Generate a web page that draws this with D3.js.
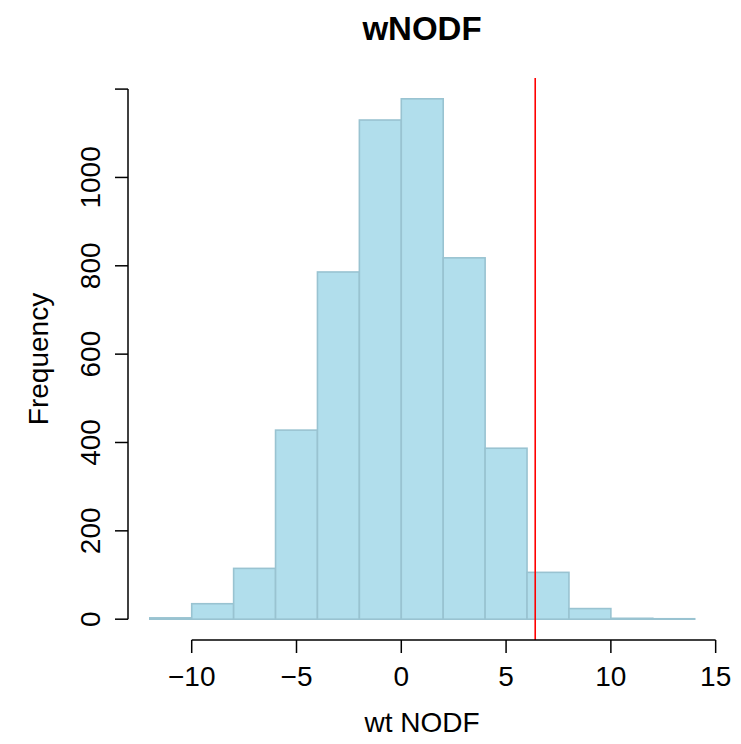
<!DOCTYPE html>
<html><head><meta charset="utf-8">
<script src="https://cdn.jsdelivr.net/npm/d3@7"></script>
<style>body{margin:0;background:#fff}svg{display:block}text{font-family:"Liberation Sans",Arial,Helvetica,sans-serif}</style>
</head><body><svg id="c" width="741" height="744"></svg>
<script>
const binStarts = [-12,-10,-8,-6,-4,-2,0,2,4,6,8,10,12];
const binWidth = 2;
const counts = [3,35,115,428,786,1130,1178,818,387,106,24,2,1];
const xTicks = [-10,-5,0,5,10,15];
const yTicks = [0,200,400,600,800,1000,1200];
const yTickLabels = ["0","200","400","600","800","1000",""];
const observed = 6.39;

const svg = d3.select("#c");
const xmin = binStarts[0], xmax = binStarts[binStarts.length-1]+binWidth;
const xpad = (xmax-xmin)*0.04;
const ymax = d3.max(counts), ypad = ymax*0.04;
const x = d3.scaleLinear().domain([xmin-xpad, xmax+xpad]).range([128, 716.5]);
const y = d3.scaleLinear().domain([-ypad, ymax+ypad]).range([640, 78]);

svg.append("g").selectAll("rect").data(counts).join("rect")
  .attr("x",(d,i)=>x(binStarts[i]))
  .attr("width",(d,i)=>x(binStarts[i]+binWidth)-x(binStarts[i]))
  .attr("y",d=>y(d))
  .attr("height",d=>y(0)-y(d))
  .attr("fill","#b1deec").attr("stroke","#99c3d1").attr("stroke-width",1.6);

svg.append("line").attr("x1",x(observed)).attr("x2",x(observed))
  .attr("y1",78).attr("y2",640).attr("stroke","#ff0000").attr("stroke-width",1.6);

// x axis
const gx = svg.append("g").attr("transform","translate(0,640)");
gx.append("line").attr("x1",x(xTicks[0])).attr("x2",x(xTicks[xTicks.length-1])).attr("stroke","#000").attr("stroke-width",1.5);
gx.selectAll("line.t").data(xTicks).join("line").attr("class","t")
  .attr("x1",d=>x(d)).attr("x2",d=>x(d)).attr("y1",0).attr("y2",13).attr("stroke","#000").attr("stroke-width",1.5);
gx.selectAll("text").data(xTicks).join("text")
  .attr("x",d=>x(d)).attr("y",46).attr("text-anchor","middle").attr("font-size",28)
  .text(d=>d<0?"\u2212"+Math.abs(d):d);

// y axis
const gy = svg.append("g").attr("transform","translate(128,0)");
gy.append("line").attr("y1",y(yTicks[0])).attr("y2",y(yTicks[yTicks.length-1])).attr("stroke","#000").attr("stroke-width",1.5);
gy.selectAll("line.t").data(yTicks).join("line").attr("class","t")
  .attr("y1",d=>y(d)).attr("y2",d=>y(d)).attr("x1",0).attr("x2",-13).attr("stroke","#000").attr("stroke-width",1.5);
gy.selectAll("text").data(yTicks).join("text")
  .attr("transform",d=>`translate(-28,${y(d)}) rotate(-90)`)
  .attr("text-anchor","middle").attr("font-size",28)
  .text((d,i)=>yTickLabels[i]);

svg.append("text").attr("x",422).attr("y",40).attr("text-anchor","middle")
  .attr("font-size",33).attr("font-weight","bold").text("wNODF");
svg.append("text").attr("x",422).attr("y",732).attr("text-anchor","middle")
  .attr("font-size",28).text("wt NODF");
svg.append("text").attr("transform","translate(48,359) rotate(-90)").attr("text-anchor","middle")
  .attr("font-size",28).text("Frequency");
</script></body></html>
